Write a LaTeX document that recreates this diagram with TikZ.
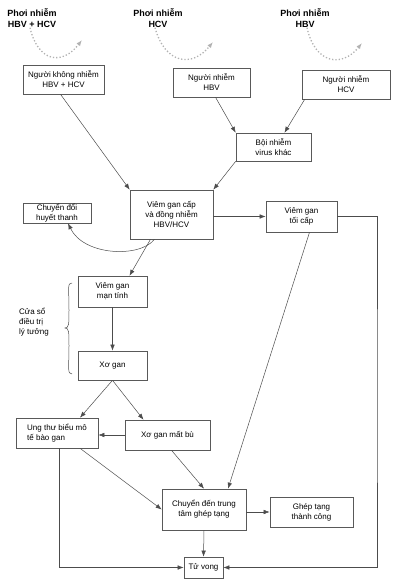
\documentclass[tikz,border=0pt]{standalone}
\usepackage{fontspec}
\setmainfont{Liberation Sans}
\usetikzlibrary{arrows.meta}

\begin{document}
\begin{tikzpicture}[x=1pt, y=-1pt, >={Latex[length=6pt,width=4.5pt]},
	every node/.style={font=\fontsize{8}{10}\selectfont, align=center, inner sep=0pt},
	box/.style={draw=black!65, line width=0.6pt},
	head/.style={font=\fontsize{9}{11}\selectfont\bfseries},
	link/.style={->, draw=black!70, line width=0.5pt},
	expo/.style={->, draw=black!30, line width=1.3pt, dotted}]
\useasboundingbox (0,0) rectangle (401,585);

\node[head] (p1) at (32, 18) {Phơi nhiễm\\HBV + HCV};
\node[head] (p2) at (158, 18) {Phơi nhiễm\\HCV};
\node[head] (p3) at (305, 18) {Phơi nhiễm\\HBV};

\coordinate (e1) at (82, 40);
\coordinate (e2) at (213, 42);
\coordinate (e3) at (362, 43);

\node[box, minimum width=81pt, minimum height=29pt] (khong) at (63.5, 79.5) {Người không nhiễm\\HBV + HCV};
\node[box, minimum width=77pt, minimum height=29pt] (hbv) at (211.5, 82.5) {Người nhiễm\\HBV};
\node[box, minimum width=88pt, minimum height=29pt] (hcv) at (346, 84.5) {Người nhiễm\\HCV};

\node[box, minimum width=75pt, minimum height=28pt] (boi) at (273.5, 147) {Bội nhiễm\\virus khác};

\node[box, minimum width=83pt, minimum height=49pt] (cap) at (171.5, 214.5) {Viêm gan cấp\\và đồng nhiễm\\HBV/HCV};
\node[box, minimum width=68pt, minimum height=20pt] (huyet) at (57, 213) {Chuyển đổi\\huyết thanh};
\node[box, minimum width=71pt, minimum height=31pt] (toicap) at (301.5, 216.5) {Viêm gan\\tối cấp};

\node[box, minimum width=69pt, minimum height=31pt] (man) at (112.5, 291.5) {Viêm gan\\mạn tính};
\node[box, minimum width=69pt, minimum height=29pt] (xo) at (112.5, 365.5) {Xơ gan};
\node[align=left] (cuaso) at (34, 322) {Cửa sổ\\điều trị\\lý tưởng};

\node[box, align=left, minimum width=82pt, minimum height=30pt] (ung) at (57, 433) {Ung thư biểu mô\\tế bào gan};
\node[box, minimum width=85pt, minimum height=30pt] (matbu) at (167.5, 435) {Xơ gan mất bù};

\node[box, minimum width=84pt, minimum height=41pt] (chuyen) at (204, 509.5) {Chuyển đến trung\\tâm ghép tạng};
\node[box, minimum width=83pt, minimum height=30pt] (ghep) at (311.5, 512) {Ghép tạng\\thành công};
\node[box, minimum width=39pt, minimum height=21pt] (tuvong) at (203.5, 567.5) {Tử vong};

\coordinate (rc) at (377, 400);

\draw[expo] ([xshift=-2pt]p1.south) .. controls (38, 62) and (62, 66) .. (e1);
\draw[expo] ([xshift=-3pt]p2.south) .. controls (165, 64) and (192, 68) .. (e2);
\draw[expo] ([xshift=2pt]p3.south) .. controls (315, 64) and (342, 68) .. (e3);

\draw[link] ([xshift=-3pt]khong.south) -- (cap.north west);
\draw[link] ([xshift=4pt]hbv.south) -- (boi.north west);
\draw[link] ([xshift=3pt]hcv.south west) -- ([xshift=11pt]boi.north);
\draw[link] (boi.south west) -- (cap.north east);

\draw[link] (toicap.west -| cap.east) -- (toicap.west);
\draw[link] ([xshift=-17pt]cap.south) .. controls (140, 258) and (84, 256) .. ([xshift=11pt]huyet.south);
\draw[link] ([xshift=-21pt]cap.south) -- ([xshift=17pt]man.north);
\draw[link] ([xshift=8pt]toicap.south) -- ([xshift=24pt]chuyen.north);
\draw[link] (toicap.east) -| (rc) |- (tuvong.east);

\draw[link] (man.south) -- (xo.north);
\draw[link] (xo.south) -- ([xshift=23pt]ung.north);
\draw[link] (xo.south) -- ([xshift=-24pt]matbu.north);
\draw[link] (matbu.west) -- (matbu.west -| ung.east);

\draw[link] ([xshift=23pt]ung.south) -- (chuyen.west);
\draw[link] ([xshift=4pt]matbu.south) -- (chuyen.north);
\draw[link] ([xshift=2pt]ung.south) |- (tuvong.west);
\draw[link] (ghep.west -| chuyen.east) -- (ghep.west);
\draw[link] (chuyen.south) -- (tuvong.north);

\draw[draw=black!70, line width=0.5pt] (72, 283) .. controls (67, 283) and (69, 288) .. (69, 310) .. controls (69, 324) and (69, 328) .. (65, 328) .. controls (69, 328) and (69, 332) .. (69, 346) .. controls (69, 368) and (67, 374) .. (72, 374);
\end{tikzpicture}
\end{document}
